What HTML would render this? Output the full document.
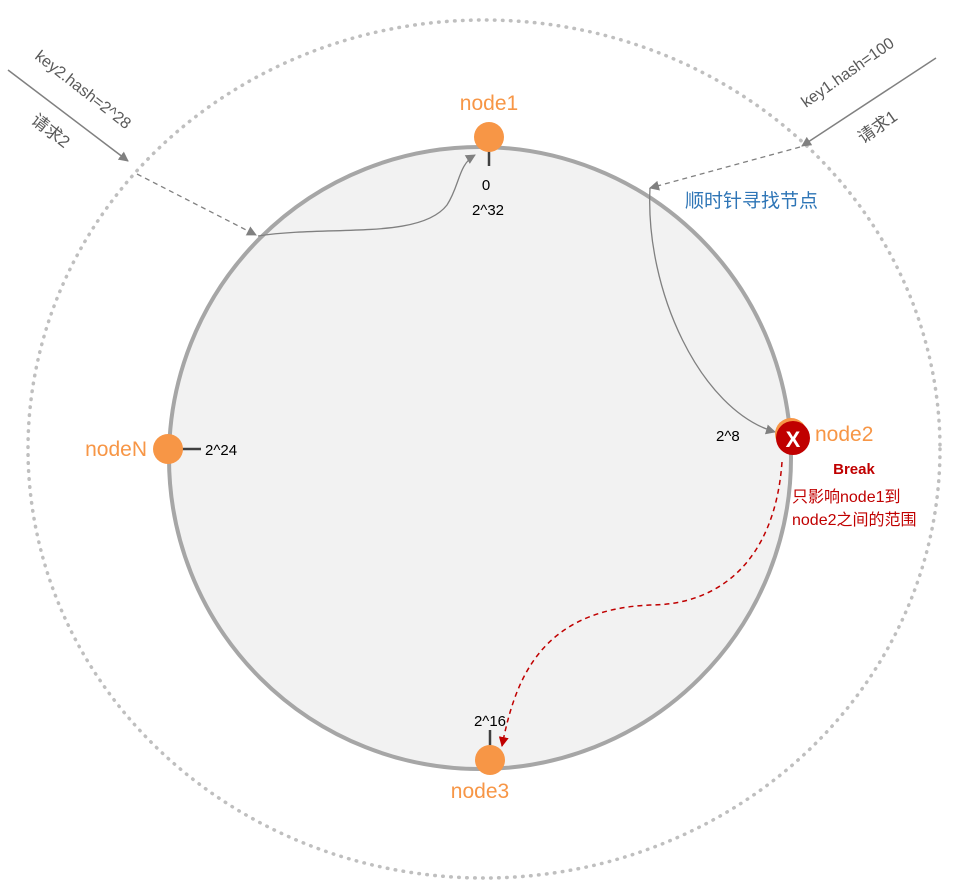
<!DOCTYPE html>
<html><head><meta charset="utf-8">
<style>
html,body{margin:0;padding:0;background:#fff;}
svg{display:block;}
text{font-family:"Liberation Sans","Noto Sans CJK SC",sans-serif;}
</style></head>
<body>
<svg width="956" height="886" viewBox="0 0 956 886" xmlns="http://www.w3.org/2000/svg">
<defs>
<marker id="ag" markerWidth="10" markerHeight="10" refX="9" refY="5" orient="auto" markerUnits="userSpaceOnUse">
<path d="M0,0 L10,5 L0,10 z" fill="#808080"/></marker>
<marker id="ar" markerWidth="10" markerHeight="10" refX="9" refY="5" orient="auto" markerUnits="userSpaceOnUse">
<path d="M0,0 L10,5 L0,10 z" fill="#c00000"/></marker>
</defs>
<ellipse cx="484" cy="449" rx="456" ry="429" fill="none" stroke="#bfbfbf" stroke-width="3.5" stroke-linecap="round" stroke-dasharray="0.5 7.5"/>
<circle cx="480" cy="458" r="311" fill="#f2f2f2" stroke="#a6a6a6" stroke-width="4"/>

<!-- key2 -->
<line x1="8" y1="70" x2="128" y2="161" stroke="#808080" stroke-width="1.5" marker-end="url(#ag)"/>
<line x1="137" y1="174" x2="256" y2="235" stroke="#808080" stroke-width="1.3" stroke-dasharray="5 4" marker-end="url(#ag)"/>
<path d="M258,236 C330,225 420,240 447,205 C460,185 458,165 475,155" fill="none" stroke="#808080" stroke-width="1.3" marker-end="url(#ag)"/>
<text x="0" y="0" transform="translate(34,58) rotate(38)" font-size="16" fill="#595959">key2.hash=2^28</text>
<text x="0" y="0" transform="translate(30,122) rotate(38)" font-size="17" fill="#595959">请求2</text>

<!-- key1 -->
<line x1="936" y1="58" x2="802" y2="146" stroke="#808080" stroke-width="1.5" marker-end="url(#ag)"/>
<line x1="800" y1="147" x2="650" y2="188" stroke="#808080" stroke-width="1.3" stroke-dasharray="5 4" marker-end="url(#ag)"/>
<path d="M650,188 C645,290 700,410 775,432" fill="none" stroke="#808080" stroke-width="1.3" marker-end="url(#ag)"/>
<text x="0" y="0" transform="translate(806,108) rotate(-35)" font-size="16" fill="#595959">key1.hash=100</text>
<text x="0" y="0" transform="translate(863,144) rotate(-35)" font-size="17" fill="#595959">请求1</text>
<text x="685" y="207" font-size="19" fill="#2e75b6">顺时针寻找节点</text>

<!-- node1 -->
<line x1="489" y1="150" x2="489" y2="166" stroke="#404040" stroke-width="2.5"/>
<circle cx="489" cy="137" r="15" fill="#f79646"/>
<text x="489" y="110" font-size="21" fill="#f79646" text-anchor="middle">node1</text>
<text x="486" y="190" font-size="15" fill="#000" text-anchor="middle">0</text>
<text x="488" y="215" font-size="15" fill="#000" text-anchor="middle">2^32</text>

<!-- nodeN -->
<line x1="180" y1="449" x2="201" y2="449" stroke="#404040" stroke-width="2.5"/>
<circle cx="168" cy="449" r="15" fill="#f79646"/>
<text x="147" y="456" font-size="21" fill="#f79646" text-anchor="end">nodeN</text>
<text x="205" y="455" font-size="15" fill="#000">2^24</text>

<!-- node3 -->
<line x1="490" y1="730" x2="490" y2="750" stroke="#404040" stroke-width="2.5"/>
<circle cx="490" cy="760" r="15" fill="#f79646"/>
<text x="480" y="798" font-size="21" fill="#f79646" text-anchor="middle">node3</text>
<text x="490" y="726" font-size="15" fill="#000" text-anchor="middle">2^16</text>

<!-- node2 -->
<text x="716" y="441" font-size="15" fill="#000">2^8</text>
<circle cx="791" cy="434" r="16" fill="#f79646"/>
<circle cx="793" cy="438" r="17" fill="#c00000"/>
<text x="793" y="447" font-size="22" font-weight="bold" fill="#fff" text-anchor="middle">X</text>
<text x="815" y="441" font-size="21" fill="#f79646">node2</text>
<text x="854" y="474" font-size="15" font-weight="bold" fill="#c00000" text-anchor="middle">Break</text>
<text x="792" y="502" font-size="16" fill="#c00000">只影响node1到</text>
<text x="792" y="525" font-size="16" fill="#c00000">node2之间的范围</text>

<path d="M782,462 C775,560 720,605 650,605 C540,610 515,680 502,746" fill="none" stroke="#c00000" stroke-width="1.5" stroke-dasharray="5 4" marker-end="url(#ar)"/>
</svg>
</body></html>
